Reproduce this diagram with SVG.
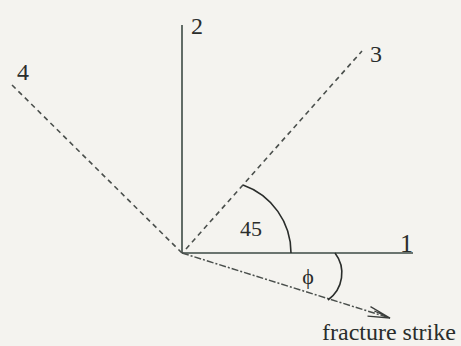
<svg xmlns="http://www.w3.org/2000/svg" width="461" height="346" viewBox="0 0 461 346">
<style>
.ax{stroke:#3d4a44;stroke-width:1.6;fill:none}
.dash{stroke:#4a4f4c;stroke-width:1.6;fill:none;stroke-dasharray:5 4}
.dd{stroke:#4a4f4c;stroke-width:1.5;fill:none;stroke-dasharray:7 2 2 2}
.arc{stroke:#2a2d2b;stroke-width:1.6;fill:none}
text{fill:#2a2d2b;font-family:'Liberation Serif','Times New Roman',serif}
</style>
<defs>
<marker id="ah" viewBox="0 0 24 12" refX="23" refY="6" markerWidth="24" markerHeight="12" markerUnits="userSpaceOnUse" orient="auto">
<path d="M1,1 L23,6 L1,11 M6,4 L23,6" fill="none" stroke="#3a3d3b" stroke-width="1.3"/>
</marker>
</defs>
<rect width="461" height="346" fill="#f4f3ef"/>
<g id="connectors">
<line id="axis1" class="ax" x1="182" y1="253" x2="413" y2="253"/>
<line id="axis2" class="ax" x1="182" y1="253" x2="182" y2="25"/>
<line id="axis3" class="dash" x1="186" y1="249" x2="362" y2="51"/>
<line id="axis4" class="dash" x1="182" y1="253" x2="10" y2="83"/>
<line id="strike" class="dd" x1="182" y1="253" x2="390" y2="318" marker-end="url(#ah)"/>
<path id="arc45" class="arc" d="M243,185 A72,72 0 0,1 291,253"/>
<path id="arcphi" class="arc" d="M335,253 A33,33 0 0,1 328,300"/>
</g>
<g id="label1"><text x="400" y="252" font-size="26">1</text></g>
<g id="label2"><text x="191" y="34" font-size="24">2</text></g>
<g id="label3"><text x="370" y="62" font-size="24">3</text></g>
<g id="label4"><text x="17" y="80" font-size="24">4</text></g>
<g id="label45"><text x="240" y="236" font-size="22">45</text></g>
<g id="labelphi"><text x="308" y="284" font-size="22" text-anchor="middle">ϕ</text></g>
<g id="labelstrike"><text x="322" y="340" font-size="24">fracture strike</text></g>
</svg>
